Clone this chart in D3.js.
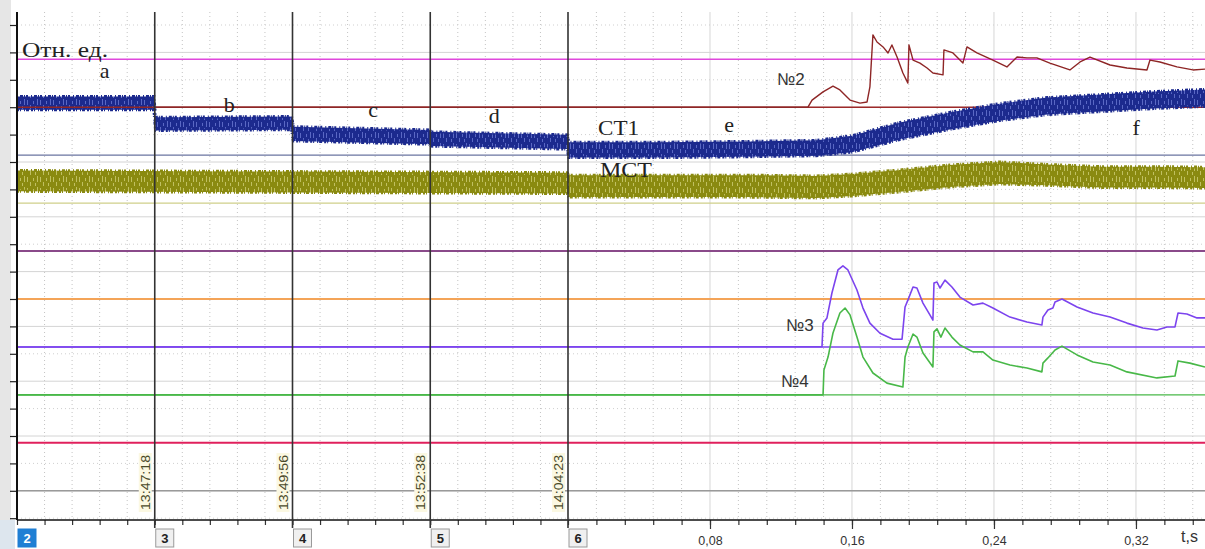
<!DOCTYPE html>
<html>
<head>
<meta charset="utf-8">
<script src="https://cdn.jsdelivr.net/npm/d3@7"></script>
<style>
  body { margin: 0; background: #fff; }
  svg { display: block; }
</style>
</head>
<body>
<script>
// ---- data (time in s, levels in relative units "Отн. ед.") ----
const segStarts = [-0.32, -0.24, -0.16, -0.08, 0];
const segNames  = ["2", "3", "4", "5", "6"];
const segClock  = ["", "13:47:18", "13:49:56", "13:52:38", "14:04:23"];
const timeTicks = [0.08, 0.16, 0.24, 0.32];

const refNames  = ["pink", "n2", "ct1", "mct", "purple", "orange", "n3", "n4", "crimson", "gray"];
const refLevels = [16.75, 15, 13.25, 11.5, 9.75, 8, 6.25, 4.5, 2.75, 1];

// СТ1 band: middle and half thickness
const ct1T    = [-0.32, -0.2405, -0.2395, -0.1605, -0.1595, -0.0805, -0.0795, -0.0005, 0.0005, 0.05, 0.10, 0.14, 0.16, 0.187, 0.215, 0.243, 0.27, 0.30, 0.33, 0.359];
const ct1Mid  = [15.15, 15.15, 14.39, 14.42, 14.03, 13.91, 13.84, 13.73, 13.44, 13.44, 13.47, 13.51, 13.66, 14.13, 14.50, 14.82, 15.04, 15.15, 15.26, 15.34];
const ct1Half = [0.24, 0.24, 0.24, 0.24, 0.26, 0.26, 0.26, 0.26, 0.28, 0.28, 0.28, 0.28, 0.30, 0.31, 0.31, 0.31, 0.31, 0.31, 0.31, 0.31];

// МСТ band
const mctT    = [-0.32, -0.16, -0.0005, 0.0005, 0.10, 0.14, 0.16, 0.187, 0.215, 0.243, 0.27, 0.30, 0.33, 0.359];
const mctMid  = [12.31, 12.27, 12.23, 12.12, 12.12, 12.09, 12.16, 12.31, 12.49, 12.60, 12.53, 12.45, 12.45, 12.43];
const mctHalf = [0.38, 0.38, 0.38, 0.40, 0.40, 0.40, 0.40, 0.40, 0.40, 0.40, 0.38, 0.38, 0.38, 0.38];

// №2
const n2T = [-0.32, 0.1352, 0.1375, 0.1437, 0.1493, 0.1532, 0.1589, 0.1645, 0.1685, 0.1701, 0.1718, 0.1741, 0.1775, 0.1803, 0.1825, 0.1854, 0.1887, 0.1915, 0.1921, 0.1944, 0.1983, 0.2023, 0.2056, 0.2113, 0.2118, 0.2169, 0.2225, 0.2248, 0.2304, 0.2394, 0.2473, 0.2530, 0.2586, 0.2642, 0.2715, 0.2828, 0.2885, 0.2941, 0.3054, 0.3149, 0.3262, 0.3279, 0.3335, 0.3431, 0.3521, 0.3589];
const n2V = [15.0, 15.0, 15.26, 15.56, 15.77, 15.63, 15.26, 15.15, 15.19, 15.74, 17.64, 17.38, 17.20, 16.98, 17.27, 16.83, 16.25, 15.88, 17.27, 16.72, 16.61, 16.43, 16.25, 16.18, 17.09, 16.98, 16.61, 17.20, 16.98, 16.72, 16.47, 16.83, 16.80, 16.80, 16.61, 16.36, 16.65, 16.83, 16.54, 16.43, 16.36, 16.72, 16.65, 16.47, 16.36, 16.39];

// №3
const n3T = [-0.32, 0.1431, 0.1437, 0.1459, 0.1487, 0.1521, 0.1549, 0.1577, 0.1628, 0.1662, 0.1701, 0.1758, 0.1831, 0.1882, 0.1899, 0.1915, 0.1944, 0.1966, 0.2000, 0.2039, 0.2056, 0.2062, 0.2079, 0.2096, 0.2124, 0.2163, 0.2208, 0.2282, 0.2338, 0.2394, 0.2490, 0.2586, 0.2670, 0.2676, 0.2704, 0.2732, 0.2744, 0.2783, 0.2868, 0.2958, 0.3054, 0.3149, 0.3239, 0.3318, 0.3375, 0.3420, 0.3437, 0.3487, 0.3544, 0.3589];
const n3V = [6.25, 6.26, 7.12, 7.31, 8.22, 9.06, 9.21, 9.06, 8.33, 7.67, 7.12, 6.75, 6.53, 6.53, 7.71, 7.96, 8.44, 8.40, 7.85, 7.42, 7.23, 8.58, 8.62, 8.40, 8.69, 8.44, 8.07, 7.78, 7.85, 7.67, 7.34, 7.16, 7.05, 7.34, 7.60, 7.67, 7.89, 8.00, 7.71, 7.49, 7.34, 7.12, 6.94, 6.87, 6.98, 6.98, 7.49, 7.45, 7.31, 7.31];

// №4
const n4T = [-0.32, 0.1437, 0.1442, 0.1465, 0.1493, 0.1532, 0.1561, 0.1589, 0.1628, 0.1662, 0.1718, 0.1797, 0.1887, 0.1899, 0.1915, 0.1944, 0.1966, 0.2000, 0.2056, 0.2062, 0.2079, 0.2101, 0.2124, 0.2163, 0.2208, 0.2282, 0.2338, 0.2394, 0.2490, 0.2586, 0.2670, 0.2676, 0.2704, 0.2744, 0.2783, 0.2868, 0.2958, 0.3054, 0.3149, 0.3318, 0.3420, 0.3437, 0.3504, 0.3589];
const n4V = [4.5, 4.5, 5.41, 5.88, 6.76, 7.49, 7.67, 7.42, 6.61, 5.88, 5.30, 4.93, 4.79, 5.88, 6.25, 6.72, 6.61, 6.03, 5.52, 6.80, 6.91, 6.61, 6.94, 6.61, 6.32, 6.07, 6.07, 5.77, 5.59, 5.48, 5.34, 5.66, 5.85, 6.14, 6.28, 5.96, 5.70, 5.59, 5.34, 5.12, 5.19, 5.74, 5.66, 5.52];

// letters placed on the record
const letterNames = ["a", "b", "c", "d", "e", "f"];
const letterT     = [-0.272, -0.20, -0.116, -0.046, 0.088, 0.318];
const letterV     = [16.08, 14.83, 14.63, 14.41, 14.10, 14.00];

const color = d3.scaleOrdinal()
  .domain(refNames)
  .range(["#e048dc", "#9e2a2a", "#6a74a0", "#cfcf8a", "#8a4a8a", "#f4a458", "#7c44ee", "#48b848", "#e0205c", "#9a9a9a"]);

const W = 1205, H = 549;
const plotTop = 12, plotBottom = 520, plotLeft = 17, plotRight = 1205;

const x = d3.scaleLinear()
  .domain([-0.32, 0, 0.3589])
  .range([plotLeft, 568, plotRight]);

const y = d3.scaleLinear()
  .domain([0, 18])
  .range([518.2, 25]);

const svg = d3.select("body").append("svg")
  .attr("width", W)
  .attr("height", H)
  .style("font-family", "'Liberation Sans', Arial, sans-serif");

// left grey strip
svg.append("rect").attr("x", 0).attr("y", 0).attr("width", 11).attr("height", plotBottom)
  .attr("fill", "#e6e6e6");
svg.append("rect").attr("x", 0).attr("y", plotBottom).attr("width", 15).attr("height", H - plotBottom)
  .attr("fill", "#dde6ee");

// ---- grid ----
const minorT = d3.range(-20, 23).map(k => k * 0.016);
const grid = svg.append("g");

grid.selectAll(".vdot")
  .data(minorT.filter(t => !timeTicks.includes(+t.toFixed(3)) && !segStarts.includes(+t.toFixed(3))))
  .enter().append("line")
  .attr("x1", d => x(d)).attr("x2", d => x(d))
  .attr("y1", plotTop).attr("y2", plotBottom)
  .attr("stroke", "#c4c4c4").attr("stroke-width", 1)
  .attr("stroke-dasharray", "1,3");

grid.selectAll(".vsolid")
  .data(timeTicks)
  .enter().append("line")
  .attr("x1", d => x(d)).attr("x2", d => x(d))
  .attr("y1", plotTop).attr("y2", plotBottom)
  .attr("stroke", "#d6d6d6").attr("stroke-width", 1);

grid.selectAll(".hgrid")
  .data(d3.range(0, 19))
  .enter().append("line")
  .attr("x1", plotLeft).attr("x2", plotRight)
  .attr("y1", d => y(d)).attr("y2", d => y(d))
  .attr("stroke", d => d % 2 ? "#d4d4d4" : "#cfcfcf")
  .attr("stroke-width", 1)
  .attr("stroke-dasharray", d => d % 2 ? null : "1,3");

// ---- channel reference lines ----
svg.append("g").selectAll("line")
  .data(refNames)
  .enter().append("line")
  .attr("x1", plotLeft).attr("x2", plotRight)
  .attr("y1", (d, i) => y(refLevels[i])).attr("y2", (d, i) => y(refLevels[i]))
  .attr("stroke", d => color(d))
  .attr("stroke-width", d => (d === "purple" || d === "orange" || d === "crimson") ? 2 : 1.4);

// ---- noisy bands (texture only, values come from the envelopes above) ----
const defs = svg.append("defs");
function texture(id, base, light) {
  const p = defs.append("pattern").attr("id", id)
    .attr("patternUnits", "userSpaceOnUse").attr("width", 13).attr("height", 11);
  p.append("rect").attr("width", 13).attr("height", 11).attr("fill", base);
  p.append("rect").attr("x", 1).attr("y", 1).attr("width", 1).attr("height", 5).attr("fill", light);
  p.append("rect").attr("x", 4).attr("y", 6).attr("width", 1).attr("height", 4).attr("fill", light);
  p.append("rect").attr("x", 7).attr("y", 2).attr("width", 1).attr("height", 3).attr("fill", light);
  p.append("rect").attr("x", 9).attr("y", 7).attr("width", 1).attr("height", 3).attr("fill", light);
  p.append("rect").attr("x", 11).attr("y", 0).attr("width", 1).attr("height", 6).attr("fill", light);
}
texture("ct1Tex", "#1c2a8e", "#5a68c4");
texture("mctTex", "#8a8a10", "#c0c060");

function band(ts, mids, halfs, fill, edge) {
  const rows = ts.map((t, i) => ({t: t, lo: mids[i] - halfs[i], hi: mids[i] + halfs[i]}));
  const area = d3.area().x(d => x(d.t)).y0(d => y(d.lo)).y1(d => y(d.hi));
  svg.append("path").datum(rows).attr("d", area).attr("fill", fill);
  const up = d3.line().x(d => x(d.t)).y(d => y(d.hi));
  const dn = d3.line().x(d => x(d.t)).y(d => y(d.lo));
  [up, dn].forEach((l, k) => svg.append("path").datum(rows).attr("d", l)
    .attr("fill", "none").attr("stroke", edge).attr("stroke-width", 3)
    .attr("stroke-dasharray", k ? "2,1,1,3,1,1,3,2" : "1,2,3,1,1,1,2,3"));
}
band(ct1T, ct1Mid, ct1Half, "url(#ct1Tex)", "#1c2a8e");
band(mctT, mctMid, mctHalf, "url(#mctTex)", "#8a8a10");

// ---- curves ----
const curve = d3.line().x(d => x(d[0])).y(d => y(d[1]));
function drawCurve(ts, vs, c, w) {
  svg.append("path").datum(ts.map((t, i) => [t, vs[i]]))
    .attr("d", curve).attr("fill", "none")
    .attr("stroke", c).attr("stroke-width", w).attr("stroke-linejoin", "round");
}
drawCurve(n2T, n2V, "#8e2626", 1.4);
drawCurve(n3T, n3V, "#7c44ee", 1.6);
drawCurve(n4T, n4V, "#48b848", 1.6);

// ---- axes ----
const yAxis = svg.append("g")
  .attr("transform", "translate(" + plotLeft + ",0)")
  .call(d3.axisLeft(y).tickValues(d3.range(0, 19)).tickSize(7).tickFormat(""));
yAxis.select(".domain").remove();
yAxis.selectAll("line").attr("stroke", "#222").attr("stroke-width", 1.2);
svg.append("line").attr("x1", plotLeft).attr("x2", plotLeft)
  .attr("y1", plotTop).attr("y2", plotBottom)
  .attr("stroke", "#111").attr("stroke-width", 2);

const xMinor = svg.append("g")
  .attr("transform", "translate(0," + plotBottom + ")")
  .call(d3.axisBottom(x).tickValues(minorT).tickSize(5).tickFormat(""));
xMinor.select(".domain").remove();
xMinor.selectAll("line").attr("stroke", "#333").attr("stroke-width", 1.2);

const xMajor = svg.append("g")
  .attr("transform", "translate(0," + plotBottom + ")")
  .call(d3.axisBottom(x).tickValues(timeTicks).tickSize(9).tickPadding(7)
    .tickFormat(d => d3.format(".2f")(d).replace(".", ",")));
xMajor.select(".domain").remove();
xMajor.selectAll("line").attr("stroke", "#333").attr("stroke-width", 1.2);
xMajor.selectAll("text").attr("font-size", 12.5).attr("fill", "#333")
  .attr("font-family", "'Liberation Sans', Arial, sans-serif");

svg.append("line").attr("x1", plotLeft).attr("x2", plotRight)
  .attr("y1", plotBottom).attr("y2", plotBottom)
  .attr("stroke", "#111").attr("stroke-width", 1.6);

svg.append("text").attr("x", 1181).attr("y", 542)
  .attr("font-size", 16).attr("fill", "#333").text("t,s");

// ---- segment markers ----
const seg = svg.append("g").selectAll("g")
  .data(segStarts)
  .enter().append("g");

seg.filter((d, i) => i > 0).append("line")
  .attr("x1", d => x(d)).attr("x2", d => x(d))
  .attr("y1", plotTop).attr("y2", 528)
  .attr("stroke", "#333").attr("stroke-width", 1.6);

seg.append("rect")
  .attr("x", d => x(d) + 1).attr("y", 529)
  .attr("width", 18).attr("height", 18)
  .attr("fill", (d, i) => i === 0 ? "#1f7fd4" : "#f0f0f0")
  .attr("stroke", (d, i) => i === 0 ? "#1f7fd4" : "#9a9a9a");

seg.append("text")
  .attr("x", d => x(d) + 10).attr("y", 543)
  .attr("text-anchor", "middle")
  .attr("font-size", 13).attr("font-weight", "bold")
  .attr("fill", (d, i) => i === 0 ? "#fff" : "#222")
  .text((d, i) => segNames[i]);

const clock = seg.filter((d, i) => i > 0);
clock.append("rect")
  .attr("x", d => x(d) - 16).attr("y", 453)
  .attr("width", 13).attr("height", 59)
  .attr("fill", "#fbf8e2");
clock.append("text")
  .attr("transform", d => "translate(" + (x(d) - 5) + ",510) rotate(-90)")
  .attr("font-size", 13).attr("fill", "#4a4a2a")
  .attr("textLength", 55).attr("lengthAdjust", "spacingAndGlyphs")
  .text((d, i) => segClock[i + 1]);

// ---- annotations ----
const serif = "'Liberation Serif', 'Times New Roman', serif";
svg.append("text").attr("x", 22).attr("y", 57)
  .attr("font-family", serif).attr("font-size", 22).attr("fill", "#222")
  .attr("textLength", 86).attr("lengthAdjust", "spacingAndGlyphs")
  .text("Отн. ед.");

svg.append("g").selectAll("text")
  .data(letterNames)
  .enter().append("text")
  .attr("x", (d, i) => x(letterT[i])).attr("y", (d, i) => y(letterV[i]))
  .attr("font-family", serif).attr("font-size", 22).attr("fill", "#222")
  .text(d => d);

svg.append("text").attr("x", 598).attr("y", 135)
  .attr("font-family", serif).attr("font-size", 21).attr("fill", "#222")
  .attr("textLength", 41).attr("lengthAdjust", "spacingAndGlyphs")
  .text("СТ1");
svg.append("text").attr("x", 600).attr("y", 177)
  .attr("font-family", serif).attr("font-size", 21).attr("fill", "#222")
  .attr("textLength", 52).attr("lengthAdjust", "spacingAndGlyphs")
  .text("МСТ");

const numLabels = [["№2", 777, 85], ["№3", 786, 331], ["№4", 781, 387]];
svg.append("g").selectAll("text")
  .data(numLabels)
  .enter().append("text")
  .attr("x", d => d[1]).attr("y", d => d[2])
  .attr("font-size", 17).attr("fill", "#333")
  .text(d => d[0]);
</script>
</body>
</html>
